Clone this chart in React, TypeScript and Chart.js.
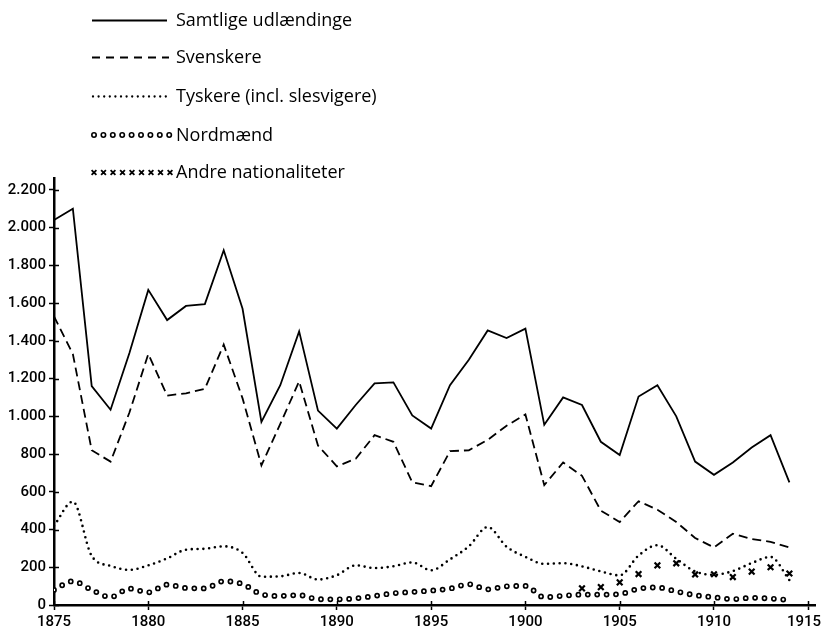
import React, { useEffect, useRef } from 'react';
import { Chart, registerables } from 'chart.js';

Chart.register(...registerables);

const YEARS = [
  1875, 1876, 1877, 1878, 1879, 1880, 1881, 1882, 1883, 1884,
  1885, 1886, 1887, 1888, 1889, 1890, 1891, 1892, 1893, 1894,
  1895, 1896, 1897, 1898, 1899, 1900, 1901, 1902, 1903, 1904,
  1905, 1906, 1907, 1908, 1909, 1910, 1911, 1912, 1913, 1914,
];

const SAMTLIGE = [
  2040, 2100, 1160, 1035, 1335, 1670, 1510, 1585, 1595, 1880,
  1570, 970, 1165, 1450, 1030, 935, 1060, 1175, 1180, 1005,
  935, 1165, 1300, 1455, 1415, 1465, 955, 1100, 1060, 865,
  795, 1105, 1165, 1000, 760, 690, 755, 835, 900, 650,
];

const SVENSKERE = [
  1530, 1330, 820, 760, 1020, 1330, 1110, 1122, 1145, 1380,
  1095, 740, 960, 1185, 845, 735, 775, 900, 865, 650,
  630, 815, 820, 875, 950, 1010, 635, 755, 685, 500,
  440, 550, 505, 440, 355, 305, 378, 350, 335, 305,
];

const TYSKERE = [
  420, 548, 260, 207, 186, 210, 247, 293, 298, 311,
  276, 150, 152, 170, 135, 158, 210, 196, 205, 226,
  184, 242, 311, 413, 309, 255, 218, 222, 205, 178,
  157, 262, 317, 245, 178, 160, 180, 222, 255, 132,
];

const NORDMAEND = [
  80, 126, 80, 42, 87, 67, 108, 90, 88, 126,
  111, 57, 48, 52, 31, 30, 35, 48, 62, 69,
  76, 87, 110, 83, 99, 101, 41, 49, 55, 55,
  58, 86, 93, 72, 52, 41, 31, 38, 34, 26,
];

const ANDRE_YEARS = [1903, 1904, 1905, 1906, 1907, 1908, 1909, 1910, 1911, 1912, 1913, 1914];
const ANDRE = [88, 95, 120, 164, 210, 221, 162, 163, 148, 177, 200, 167];

const SERIES_LABELS = [
  'Samtlige udlændinge',
  'Svenskere',
  'Tyskere (incl. slesvigere)',
  'Nordmænd',
  'Andre nationaliteter',
];

const X_TICKS = [1875, 1880, 1885, 1890, 1895, 1900, 1905, 1910, 1915];
const X_TICK_LABELS = ['1875', '1880', '1885', '1890', '1895', '1900', '1905', '1910', '1915'];
const Y_TICKS = [0, 200, 400, 600, 800, 1000, 1200, 1400, 1600, 1800, 2000, 2200];
const Y_TICK_LABELS = ['0', '200', '400', '600', '800', '1.000', '1.200', '1.400', '1.600', '1.800', '2.000', '2.200'];

const toPoints = (xs: number[], ys: number[]) => xs.map((x, i) => ({ x, y: ys[i] }));

const TICK_FONT = { family: 'Roboto', size: 15, weight: '500' };
const TICK_FONT_CSS = '500 15px Roboto';

const legendPlugin = {
  id: 'manualLegend',
  afterDraw(chart: any) {
    const ctx = chart.ctx as CanvasRenderingContext2D;
    const rows = [20.5, 57.5, 96.5, 135, 172.5];
    const x0 = 92;
    const x1 = 167;
    const tx = 176;
    const items = chart.data.datasets.filter((d: any) => d.legendKind);
    ctx.save();
    ctx.strokeStyle = '#000';
    ctx.fillStyle = '#000';
    items.forEach((d: any, i: number) => {
      const y = rows[i];
      ctx.save();
      ctx.beginPath();
      if (d.legendKind === 'solid') {
        ctx.lineWidth = 1.8;
        ctx.moveTo(x0, y);
        ctx.lineTo(x1, y);
        ctx.stroke();
      } else if (d.legendKind === 'dashed') {
        ctx.lineWidth = 1.8;
        ctx.setLineDash([8, 6]);
        ctx.moveTo(x0, y);
        ctx.lineTo(x1 + 2, y);
        ctx.stroke();
      } else if (d.legendKind === 'dotted') {
        ctx.lineWidth = 2.3;
        ctx.lineCap = 'round';
        ctx.setLineDash([0, 5.6]);
        ctx.moveTo(x0 + 1, y);
        ctx.lineTo(x1, y);
        ctx.stroke();
      } else if (d.legendKind === 'circles') {
        ctx.lineWidth = 1.6;
        for (let k = 0; k < 9; k++) {
          ctx.beginPath();
          ctx.arc(x0 + 2 + k * 9.4, y, 2.2, 0, Math.PI * 2);
          ctx.stroke();
        }
      } else if (d.legendKind === 'crosses') {
        ctx.lineWidth = 1.8;
        for (let k = 0; k < 9; k++) {
          const cx = x0 + 2 + k * 9.5;
          ctx.beginPath();
          ctx.moveTo(cx - 2.4, y - 2.4);
          ctx.lineTo(cx + 2.4, y + 2.4);
          ctx.moveTo(cx + 2.4, y - 2.4);
          ctx.lineTo(cx - 2.4, y + 2.4);
          ctx.stroke();
        }
      }
      ctx.restore();
      ctx.font = '18px "Open Sans"';
      ctx.textBaseline = 'middle';
      ctx.textAlign = 'left';
      ctx.fillText(d.label, tx, y + 0.5);
    });
    ctx.restore();
  },
};

const ticksPlugin = {
  id: 'innerTicksAndXLabels',
  afterDraw(chart: any) {
    const { ctx, chartArea, scales, width } = chart;
    ctx.save();
    ctx.strokeStyle = '#000';
    ctx.lineWidth = 1.5;
    ctx.beginPath();
    scales.y.ticks.forEach((t: any) => {
      const y = Math.round(scales.y.getPixelForValue(t.value)) + 0.5;
      ctx.moveTo(chartArea.left, y);
      ctx.lineTo(chartArea.left + 5, y);
    });
    scales.x.ticks.forEach((t: any) => {
      const x = Math.round(scales.x.getPixelForValue(t.value)) + 0.5;
      ctx.moveTo(x, chartArea.bottom);
      ctx.lineTo(x, chartArea.bottom - 4);
    });
    ctx.stroke();

    // x tick labels (kept inside the canvas at the right edge)
    ctx.font = TICK_FONT_CSS;
    ctx.fillStyle = '#000';
    ctx.textBaseline = 'alphabetic';
    ctx.textAlign = 'left';
    scales.x.ticks.forEach((t: any, i: number) => {
      const label = X_TICK_LABELS[i];
      const x = scales.x.getPixelForValue(t.value);
      const w = ctx.measureText(label).width;
      let left = x - w / 2;
      if (left + w > width - 1) left = width - 1 - w;
      ctx.fillText(label, left, chartArea.bottom + 21);
    });
    ctx.restore();
  },
};

export default function App() {
  const canvasRef = useRef<HTMLCanvasElement | null>(null);

  useEffect(() => {
    document.body.style.margin = '0';
    const canvas = canvasRef.current;
    if (!canvas) return;

    const chart = new Chart(canvas, {
      type: 'line',
      data: {
        datasets: [
          {
            label: SERIES_LABELS[0],
            legendKind: 'solid',
            data: toPoints(YEARS, SAMTLIGE),
            borderColor: '#000',
            borderWidth: 1.8,
            pointRadius: 0,
            tension: 0,
            order: 5,
          } as any,
          {
            label: SERIES_LABELS[1],
            legendKind: 'dashed',
            data: toPoints(YEARS, SVENSKERE),
            borderColor: '#000',
            borderWidth: 1.8,
            borderDash: [9, 5],
            pointRadius: 0,
            tension: 0,
            order: 4,
          } as any,
          {
            label: SERIES_LABELS[2],
            legendKind: 'dotted',
            data: toPoints(YEARS, TYSKERE),
            borderColor: '#000',
            borderWidth: 2.6,
            borderDash: [0, 5.8],
            borderCapStyle: 'round',
            pointRadius: 0,
            cubicInterpolationMode: 'monotone',
            order: 3,
          } as any,
          {
            label: SERIES_LABELS[3],
            legendKind: 'circles',
            data: toPoints(YEARS, NORDMAEND),
            borderColor: '#000',
            borderWidth: 5.8,
            borderDash: [0, 9.4],
            borderCapStyle: 'round',
            pointRadius: 0,
            cubicInterpolationMode: 'monotone',
            order: 2,
          } as any,
          {
            label: '',
            data: toPoints(YEARS, NORDMAEND),
            borderColor: '#fff',
            borderWidth: 2.4,
            borderDash: [0, 9.4],
            borderCapStyle: 'round',
            pointRadius: 0,
            cubicInterpolationMode: 'monotone',
            order: 1,
          } as any,
          {
            label: SERIES_LABELS[4],
            legendKind: 'crosses',
            data: toPoints(ANDRE_YEARS, ANDRE),
            showLine: false,
            pointStyle: 'crossRot',
            pointRadius: 4,
            pointBorderWidth: 2.2,
            pointBorderColor: '#000',
            pointBackgroundColor: '#000',
            order: 0,
          } as any,
        ],
      },
      options: {
        responsive: false,
        animation: false,
        events: [],
        layout: { padding: { top: 178, right: 6, bottom: 0, left: 0 } },
        plugins: {
          legend: { display: false },
          tooltip: { enabled: false },
          title: { display: false },
        },
        scales: {
          x: {
            type: 'linear',
            min: 1875,
            max: 1915.4,
            afterBuildTicks: (s: any) => {
              s.ticks = X_TICKS.map((v) => ({ value: v }));
            },
            ticks: {
              display: false,
              autoSkip: false,
            },
            grid: {
              display: true,
              drawOnChartArea: false,
              drawTicks: true,
              tickLength: 5,
              tickColor: '#000',
              tickWidth: 1.5,
            },
            border: { display: true, color: '#000', width: 2.5 },
            afterFit: (s: any) => {
              s.height = 26;
              s.paddingLeft = 0;
              s.paddingRight = 0;
            },
          } as any,
          y: {
            type: 'linear',
            min: 0,
            max: 2263,
            afterBuildTicks: (s: any) => {
              s.ticks = Y_TICKS.map((v) => ({ value: v }));
            },
            ticks: {
              callback: (_v: any, i: number) => Y_TICK_LABELS[i],
              font: TICK_FONT,
              color: '#000',
              padding: 3,
              autoSkip: false,
            },
            grid: {
              display: true,
              drawOnChartArea: false,
              drawTicks: true,
              tickLength: 5,
              tickColor: '#000',
              tickWidth: 1.5,
            },
            border: { display: true, color: '#000', width: 2.5 },
            afterFit: (s: any) => {
              s.width = 54;
              s.paddingTop = 0;
              s.paddingBottom = 0;
            },
          } as any,
        },
      },
      plugins: [legendPlugin, ticksPlugin],
    } as any);

    return () => {
      chart.destroy();
    };
  }, []);

  return (
    <div style={{ width: 822, height: 631, background: '#fff' }}>
      <canvas ref={canvasRef} width={822} height={631} style={{ display: 'block' }} />
    </div>
  );
}
